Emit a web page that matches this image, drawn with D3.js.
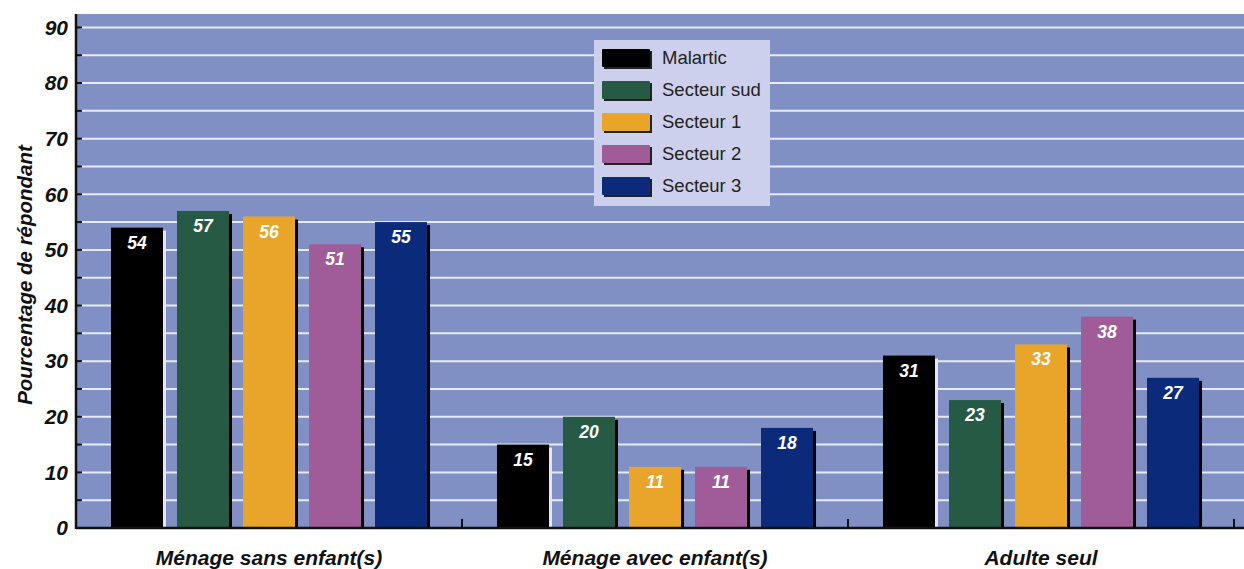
<!DOCTYPE html>
<html><head><meta charset="utf-8">
<script src="https://cdn.jsdelivr.net/npm/d3@7"></script>
<style>html,body{margin:0;padding:0;background:#fff;}svg{display:block;}</style>
</head><body>
<svg id="c" width="1244" height="569"></svg>
<script>
const categories = ["Ménage sans enfant(s)", "Ménage avec enfant(s)", "Adulte seul"];
const seriesNames = ["Malartic", "Secteur sud", "Secteur 1", "Secteur 2", "Secteur 3"];
const malartic = [54, 15, 31];
const secteurSud = [57, 20, 23];
const secteur1 = [56, 11, 33];
const secteur2 = [51, 11, 38];
const secteur3 = [55, 18, 27];
const yTicks = [0, 10, 20, 30, 40, 50, 60, 70, 80, 90];
const colors = ["#000000", "#265a45", "#e9a42a", "#a05b99", "#0c2a7a"];
const shadowColors = ["#e4e6f4", "#000000", "#000000", "#000000", "#000000"];

const seriesValues = [malartic, secteurSud, secteur1, secteur2, secteur3];

(function () {
const svg = d3.select("#c");
const pL = 76, pR = 1234, pT = 14, pB = 528, W = 1244;
const font = "Arial, 'Liberation Sans', sans-serif";

const x0 = d3.scaleBand().domain(categories).range([pL, pR]).padding(0);
const x1 = d3.scaleBand().domain(seriesNames).range([0, x0.bandwidth()]).paddingInner(0.212).paddingOuter(0.53);
const y = d3.scaleLinear().domain([0, 90]).range([pB, pB - 500.6]);

svg.append("rect").attr("x", pL).attr("y", pT).attr("width", W - pL).attr("height", pB - pT).attr("fill", "#8090c4");

const gridVals = d3.range(5, 91, 5);
svg.append("g").selectAll("line").data(gridVals).join("line")
  .attr("x1", pL + 4).attr("x2", W)
  .attr("y1", d => y(d)).attr("y2", d => y(d))
  .attr("stroke", "#e6eaf8").attr("stroke-width", 2);

const groups = svg.append("g").selectAll("g").data(categories).join("g")
  .attr("transform", c => `translate(${x0(c)},0)`);

groups.each(function(c, ci) {
  const g = d3.select(this);
  const data = seriesNames.map((s, si) => ({s, si, v: seriesValues[si][ci]}));
  g.selectAll("rect.sh").data(data).join("rect").attr("class", "sh")
    .attr("x", d => x1(d.s) + 3).attr("y", d => y(d.v) + 3)
    .attr("width", x1.bandwidth()).attr("height", d => pB - y(d.v) - 3)
    .attr("fill", d => shadowColors[d.si]);
  g.selectAll("rect.b").data(data).join("rect").attr("class", "b")
    .attr("x", d => x1(d.s)).attr("y", d => y(d.v))
    .attr("width", x1.bandwidth()).attr("height", d => pB - y(d.v))
    .attr("fill", d => colors[d.si]);
  g.selectAll("text").data(data).join("text")
    .attr("x", d => x1(d.s) + x1.bandwidth() / 2)
    .attr("y", d => y(d.v) + 21)
    .attr("text-anchor", "middle")
    .attr("fill", "#ffffff").attr("font-family", font)
    .attr("font-weight", "bold").attr("font-style", "italic").attr("font-size", 17.5)
    .text(d => d.v);
});

const yAxis = d3.axisLeft(y).tickValues(yTicks).tickSize(0);
const ya = svg.append("g").attr("transform", `translate(${pL},0)`).call(yAxis);
ya.select(".domain").remove();
ya.selectAll("text").attr("x", -8).attr("font-family", font).attr("font-weight", "bold")
  .attr("font-style", "italic").attr("font-size", 21).attr("fill", "#111");
svg.append("g").selectAll("line").data(d3.range(0, 91, 5)).join("line")
  .attr("x1", pL).attr("x2", pL + 6).attr("y1", d => y(d)).attr("y2", d => y(d))
  .attr("stroke", "#111").attr("stroke-width", 2);
svg.append("line").attr("x1", pL).attr("x2", pL).attr("y1", pT).attr("y2", pB + 1)
  .attr("stroke", "#111").attr("stroke-width", 2.5);

svg.append("line").attr("x1", pL).attr("x2", W).attr("y1", pB).attr("y2", pB)
  .attr("stroke", "#111").attr("stroke-width", 2.5);
svg.append("g").selectAll("line").data(categories).join("line")
  .attr("x1", c => x0(c) + x0.bandwidth())
  .attr("x2", c => x0(c) + x0.bandwidth())
  .attr("y1", pB - 9).attr("y2", pB).attr("stroke", "#111").attr("stroke-width", 2);
const xAxis = d3.axisBottom(x0).tickSize(0);
const xa = svg.append("g").attr("transform", `translate(0,${pB})`).call(xAxis);
xa.select(".domain").remove();
xa.selectAll("text").attr("y", 37).attr("dy", null).attr("font-family", font).attr("font-weight", "bold")
  .attr("font-style", "italic").attr("font-size", 21).attr("fill", "#111");

svg.append("text").attr("transform", `translate(32,${275}) rotate(-90)`)
  .attr("text-anchor", "middle").attr("font-family", font).attr("font-weight", "bold")
  .attr("font-style", "italic").attr("font-size", 20.5).attr("fill", "#111")
  .text("Pourcentage de répondant");

const lg = svg.append("g").attr("transform", "translate(594,40)");
lg.append("rect").attr("width", 176).attr("height", 166).attr("fill", "#ccd0ec");
const items = lg.selectAll("g").data(seriesNames).join("g")
  .attr("transform", (d, i) => `translate(8,${18 + i * 32})`);
items.append("rect").attr("x", 2).attr("y", -7).attr("width", 48).attr("height", 18).attr("fill", "#222");
items.append("rect").attr("x", 0).attr("y", -9).attr("width", 48).attr("height", 18).attr("fill", (d, i) => colors[i]).attr("rx", 1);
items.append("text").attr("x", 60).attr("y", 0).attr("dy", "0.35em")
  .attr("font-family", font).attr("font-size", 18.5).attr("fill", "#222").text(d => d);
})();
</script>
</body></html>
